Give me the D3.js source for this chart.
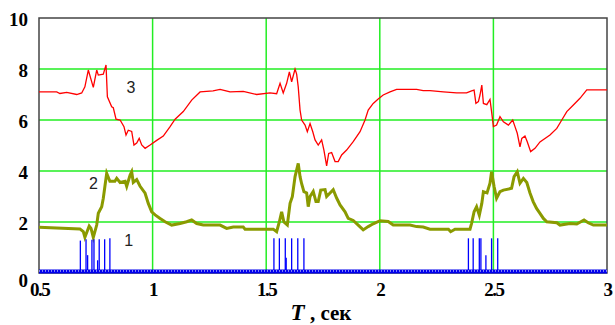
<!DOCTYPE html>
<html>
<head>
<meta charset="utf-8">
<script src="https://cdn.jsdelivr.net/npm/d3@7"></script>
<style>
  body { margin: 0; background: #fff; }
  svg { display: block; }
</style>
</head>
<body>
<div id="chart"></div>
<script>
// ---- data ----
var xTicks = [0.5, 1, 1.5, 2, 2.5, 3]
var yTicks = [0, 2, 4, 6, 8, 10]

// 1 - импульсы (time, height)
var pulseBase = 0.06
var pulses = [
  [0.682, 1.27], [0.707, 1.32], [0.714, 0.70], [0.733, 1.30], [0.742, 1.32],
  [0.758, 0.50], [0.765, 1.32], [0.789, 1.32], [0.812, 1.36],
  [1.534, 1.36], [1.558, 1.36], [1.584, 1.36], [1.588, 0.60], [1.612, 1.36],
  [1.639, 1.36], [1.666, 1.36],
  [2.390, 1.36], [2.411, 1.36], [2.438, 1.36], [2.445, 1.36], [2.467, 0.70],
  [2.492, 1.36], [2.519, 1.36]
]

// 2
var curve2 = [
  [0.500, 1.79], [0.680, 1.73], [0.695, 1.62], [0.702, 1.40], [0.721, 1.84], [0.729, 1.75],
  [0.739, 1.40], [0.754, 1.88], [0.761, 2.34], [0.776, 2.60], [0.783, 2.93], [0.790, 3.39],
  [0.798, 3.91], [0.812, 3.60], [0.834, 3.60], [0.842, 3.71], [0.857, 3.55], [0.879, 3.60],
  [0.886, 3.40], [0.901, 3.84], [0.908, 3.97], [0.915, 3.55], [0.930, 3.66], [0.945, 3.40],
  [0.967, 3.13], [0.981, 2.73], [0.996, 2.40], [1.011, 2.28], [1.033, 2.14], [1.055, 2.01],
  [1.084, 1.88], [1.121, 1.94], [1.150, 2.01], [1.172, 2.08], [1.194, 1.94], [1.223, 1.88],
  [1.297, 1.88], [1.326, 1.75], [1.355, 1.80], [1.399, 1.80], [1.407, 1.72], [1.531, 1.72],
  [1.546, 1.62], [1.558, 2.01], [1.568, 2.40], [1.578, 2.00], [1.593, 1.88], [1.605, 2.73],
  [1.615, 2.99], [1.627, 3.78], [1.641, 4.30], [1.649, 3.78], [1.656, 3.50], [1.666, 3.19],
  [1.678, 3.14], [1.685, 2.60], [1.693, 3.00], [1.707, 3.20], [1.719, 2.80], [1.729, 2.80],
  [1.740, 3.25], [1.759, 3.27], [1.766, 3.00], [1.781, 3.14], [1.795, 3.27], [1.810, 2.94],
  [1.825, 2.67], [1.847, 2.40], [1.861, 2.14], [1.883, 2.06], [1.905, 1.88], [1.927, 1.69],
  [1.949, 1.82], [1.971, 1.93], [2.001, 2.05], [2.037, 2.02], [2.059, 1.88], [2.133, 1.88],
  [2.162, 1.82], [2.191, 1.80], [2.221, 1.72], [2.302, 1.72], [2.312, 1.62], [2.331, 1.72],
  [2.397, 1.72], [2.404, 1.95], [2.415, 2.40], [2.426, 2.60], [2.438, 2.27], [2.449, 2.73],
  [2.456, 3.19], [2.472, 3.14], [2.485, 3.52], [2.492, 3.97], [2.503, 3.39], [2.514, 2.93],
  [2.529, 3.19], [2.544, 3.25], [2.580, 3.32], [2.591, 3.78], [2.605, 3.97], [2.617, 3.52],
  [2.632, 3.71], [2.647, 3.55], [2.661, 3.14], [2.675, 2.80], [2.690, 2.53], [2.705, 2.34],
  [2.720, 2.14], [2.735, 2.01], [2.779, 1.97], [2.793, 1.88], [2.837, 1.94], [2.867, 1.92],
  [2.899, 2.08], [2.917, 1.97], [2.940, 1.88], [3.000, 1.88]
]

// 3
var curve3 = [
  [0.500, 7.10], [0.578, 7.10], [0.592, 7.04], [0.622, 7.08], [0.666, 7.00], [0.688, 7.06],
  [0.702, 7.30], [0.717, 7.96], [0.739, 7.28], [0.754, 7.96], [0.761, 7.76], [0.783, 7.80],
  [0.795, 8.16], [0.801, 6.91], [0.820, 6.52], [0.827, 6.48], [0.839, 6.03], [0.857, 6.00],
  [0.874, 5.74], [0.883, 5.41], [0.893, 5.60], [0.908, 5.55], [0.918, 5.02], [0.930, 5.10],
  [0.941, 5.28], [0.952, 5.02], [0.967, 4.89], [0.989, 5.02], [1.018, 5.20], [1.047, 5.37],
  [1.077, 5.74], [1.099, 6.03], [1.135, 6.33], [1.172, 6.78], [1.209, 7.10], [1.266, 7.14],
  [1.297, 7.20], [1.341, 7.10], [1.399, 7.12], [1.458, 7.00], [1.517, 7.06], [1.546, 7.03],
  [1.561, 7.44], [1.575, 7.06], [1.590, 7.44], [1.602, 7.89], [1.612, 7.50], [1.627, 8.00],
  [1.634, 7.80], [1.641, 7.30], [1.649, 6.39], [1.656, 6.00], [1.671, 5.80], [1.681, 5.54],
  [1.693, 5.86], [1.705, 5.54], [1.715, 5.22], [1.729, 5.02], [1.744, 5.22], [1.754, 4.82],
  [1.766, 4.20], [1.775, 4.69], [1.788, 4.72], [1.803, 4.37], [1.817, 4.37], [1.832, 4.63],
  [1.854, 4.82], [1.883, 5.15], [1.913, 5.54], [1.935, 6.00], [1.949, 6.39], [1.971, 6.65],
  [1.993, 6.82], [2.015, 6.98], [2.045, 7.10], [2.074, 7.20], [2.162, 7.20], [2.191, 7.15],
  [2.221, 7.15], [2.280, 7.10], [2.338, 7.06], [2.382, 7.06], [2.404, 7.14], [2.415, 7.17],
  [2.423, 6.65], [2.434, 6.72], [2.441, 6.98], [2.449, 7.37], [2.456, 6.65], [2.471, 6.60],
  [2.485, 6.81], [2.492, 6.33], [2.500, 5.74], [2.514, 5.80], [2.529, 6.13], [2.544, 5.93],
  [2.566, 5.80], [2.585, 6.00], [2.595, 5.74], [2.605, 5.48], [2.617, 4.95], [2.625, 5.28],
  [2.639, 5.37], [2.649, 5.15], [2.664, 4.76], [2.683, 4.89], [2.705, 5.14], [2.749, 5.41],
  [2.779, 5.67], [2.801, 6.00], [2.823, 6.33], [2.852, 6.59], [2.881, 6.85], [2.911, 7.18],
  [3.000, 7.18]
]

// подписи кривых: [text, t, value]
var curveLabels = [['1', 0.875, 1.05], ['2', 0.720, 3.30], ['3', 0.885, 7.05]]

// ---- chart ----
var W = 615, H = 325
var margin = {top: 18, right: 8, bottom: 52, left: 39}
var width = W - margin.left - margin.right
var height = H - margin.top - margin.bottom
var serif = 'Liberation Serif'

var svg = d3.select('#chart').append('svg')
  .attr('width', W)
  .attr('height', H)

var g = svg.append('g')
  .attr('transform', 'translate(' + margin.left + ',' + margin.top + ')')

var x = d3.scaleLinear().domain([0.5, 3]).range([0, width])
var y = d3.scaleLinear().domain([0, 10]).range([height, 0])

// сетка
g.append('g')
  .selectAll('line')
  .data(xTicks.slice(1, -1))
  .enter().append('line')
  .attr('x1', function(d) { return x(d) })
  .attr('x2', function(d) { return x(d) })
  .attr('y1', 0)
  .attr('y2', height)
  .attr('stroke', '#22ee22')
  .attr('stroke-width', 1.5)
g.append('g')
  .selectAll('line')
  .data(yTicks.slice(1, -1))
  .enter().append('line')
  .attr('x1', 0)
  .attr('x2', width)
  .attr('y1', function(d) { return y(d) })
  .attr('y2', function(d) { return y(d) })
  .attr('stroke', '#22ee22')
  .attr('stroke-width', 1.5)

// рамка
g.append('rect')
  .attr('x', 0)
  .attr('y', 0)
  .attr('width', width)
  .attr('height', height)
  .attr('fill', 'none')
  .attr('stroke', '#444')
  .attr('stroke-width', 1.5)

// оси (подписи)
var xAxis = d3.axisBottom(x).tickValues(xTicks).tickSize(0).tickPadding(10)
  .tickFormat(function(d) { return String(d) })
var yAxis = d3.axisLeft(y).tickValues(yTicks).tickSize(0).tickPadding(11)

g.append('g')
  .attr('transform', 'translate(0,' + height + ')')
  .call(xAxis)
  .attr('font-family', serif)
  .attr('font-size', 19)
  .call(function(a) {
    a.select('.domain').remove()
    a.selectAll('text')
      .attr('font-family', serif)
      .attr('font-weight', 'bold')
      .attr('letter-spacing', '-1.5')
      .attr('fill', '#000')
  })

g.append('g')
  .call(yAxis)
  .attr('font-family', serif)
  .attr('font-size', 19)
  .call(function(a) {
    a.select('.domain').remove()
    a.selectAll('text')
      .attr('font-family', serif)
      .attr('font-weight', 'bold')
      .attr('fill', '#000')
      .attr('dy', function(d) { return d === 0 ? '0.7em' : '0.38em' })
  })

// 3 - красная
var line = d3.line()
  .x(function(d) { return x(d[0]) })
  .y(function(d) { return y(d[1]) })

g.append('path')
  .datum(curve3)
  .attr('fill', 'none')
  .attr('stroke', '#ff0000')
  .attr('stroke-width', 1.3)
  .attr('d', line)

// 2 - оливковая
g.append('path')
  .datum(curve2)
  .attr('fill', 'none')
  .attr('stroke', '#8a9a00')
  .attr('stroke-width', 3)
  .attr('d', line)

// 1 - импульсы
g.append('g')
  .selectAll('line')
  .data(pulses)
  .enter().append('line')
  .attr('x1', function(d) { return x(d[0]) })
  .attr('x2', function(d) { return x(d[0]) })
  .attr('y1', y(pulseBase))
  .attr('y2', function(d) { return y(d[1]) })
  .attr('stroke', '#0000ff')
  .attr('stroke-width', 1.3)

g.append('path')
  .datum([[0.5, pulseBase], [3, pulseBase]])
  .attr('fill', 'none')
  .attr('stroke', '#0000ee')
  .attr('stroke-width', 4)
  .attr('d', line)
g.append('path')
  .datum([[0.5, pulseBase], [3, pulseBase]])
  .attr('fill', 'none')
  .attr('stroke', '#ffffff')
  .attr('stroke-width', 1)
  .attr('stroke-dasharray', '1,2')
  .attr('transform', 'translate(0,-0.5)')
  .attr('d', line)

// номера кривых
g.selectAll('.clabel')
  .data(curveLabels)
  .enter().append('text')
  .attr('class', 'clabel')
  .attr('x', function(d) { return x(d[1]) })
  .attr('y', function(d) { return y(d[2]) })
  .attr('font-family', 'Liberation Sans')
  .attr('font-size', 16)
  .attr('fill', '#222')
  .text(function(d) { return d[0] })

// подпись оси
var title = svg.append('text')
  .attr('x', margin.left + width / 2 - 2)
  .attr('y', 320)
  .attr('text-anchor', 'middle')
  .attr('font-family', serif)
  .attr('font-weight', 'bold')
  .attr('font-size', 21)
title.append('tspan').attr('font-style', 'italic').attr('font-size', 23).text('T')
title.append('tspan').text(' , сек')
</script>
</body>
</html>
